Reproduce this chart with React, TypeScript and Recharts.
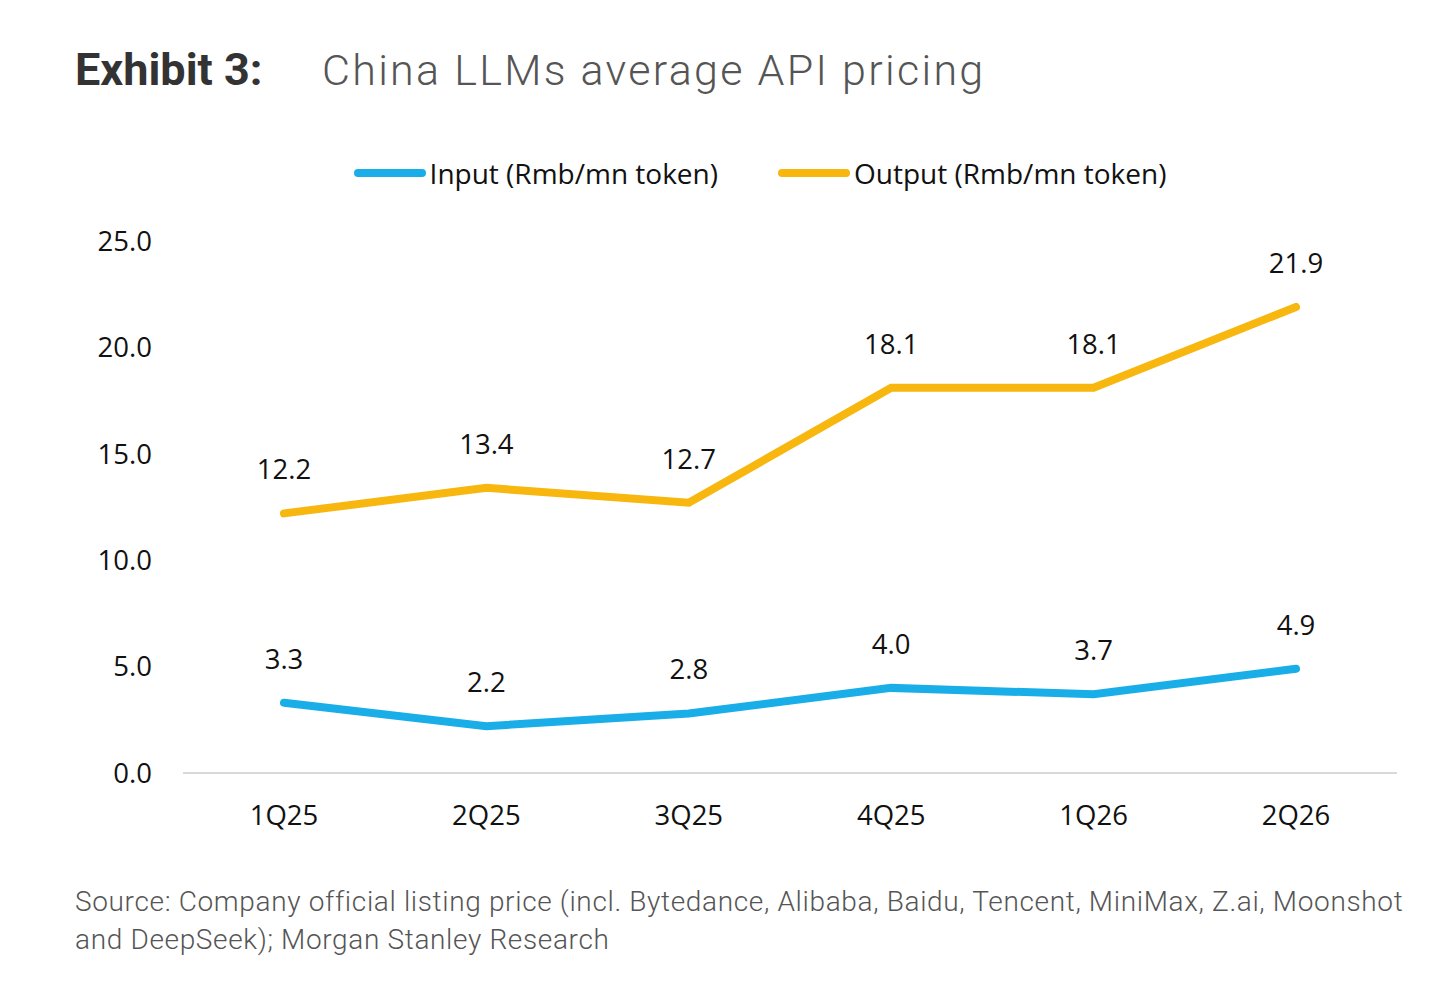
import React from "react";
import { LineChart, Line, XAxis, YAxis, Legend, LabelList } from "recharts";

const quarters = ["1Q25", "2Q25", "3Q25", "4Q25", "1Q26", "2Q26"];
const inputPrice = [3.3, 2.2, 2.8, 4.0, 3.7, 4.9];
const outputPrice = [12.2, 13.4, 12.7, 18.1, 18.1, 21.9];
const yTicks = [0, 5, 10, 15, 20, 25];

const seriesNames = { input: "Input (Rmb/mn token)", output: "Output (Rmb/mn token)" };
const BLUE = "#1AAEE8";
const ORANGE = "#F7B70F";

const data = quarters.map((q, i) => ({ q, input: inputPrice[i], output: outputPrice[i] }));

const chartFont = "'Open Sans', 'Noto Sans', sans-serif";

const LegendContent = (props: any) => {
  const { payload } = props;
  return (
    <div style={{ display: "flex", justifyContent: "center", alignItems: "center", height: 36, fontFamily: chartFont, fontSize: 28, color: "#111" }}>
      {(payload || []).map((p: any, i: number) => (
        <div key={i} style={{ display: "flex", alignItems: "center", marginLeft: i === 0 ? 0 : 60 }}>
          <svg width={76} height={12}>
            <line x1={4} y1={6} x2={68} y2={6} stroke={p.color} strokeWidth={8} strokeLinecap="round" />
          </svg>
          <span>{p.value}</span>
        </div>
      ))}
    </div>
  );
};

export default function App() {
  return (
    <div style={{ position: "absolute", left: 0, top: 0, width: 1439, height: 986, background: "#fff", overflow: "hidden" }}>
      <div style={{ position: "absolute", left: 75, top: 47, fontFamily: "Roboto, sans-serif", fontSize: 45, lineHeight: "45px", fontWeight: 700, color: "#333", whiteSpace: "nowrap" }}>
        Exhibit 3:
      </div>
      <div style={{ position: "absolute", left: 322, top: 49, fontFamily: "Roboto, sans-serif", fontSize: 43, lineHeight: "43px", fontWeight: 300, letterSpacing: 2.3, color: "#555", whiteSpace: "nowrap" }}>
        China LLMs average API pricing
      </div>
      <div style={{ position: "absolute", left: 0, top: 0 }}>
        <LineChart width={1439} height={860} data={data} margin={{ top: 205, right: 42, left: 0, bottom: 0 }}>
          <Legend
            verticalAlign="top"
            content={<LegendContent />}
            wrapperStyle={{ position: "absolute", top: 155, left: 0, width: 1520, height: 36 }}
          />
          <XAxis
            dataKey="q"
            axisLine={{ stroke: "#d9d9d9", strokeWidth: 2 }}
            tickLine={false}
            tickSize={0}
            tickMargin={32}
            padding={{ left: 101, right: 101 }}
            tick={{ fontFamily: chartFont, fontSize: 27.5, fill: "#111" }}
            height={87}
            interval={0}
          />
          <YAxis
            width={183}
            domain={[0, 25]}
            ticks={yTicks}
            axisLine={false}
            tickLine={false}
            tickSize={0}
            tickMargin={31}
            tickFormatter={(v: number) => v.toFixed(1)}
            tick={{ fontFamily: chartFont, fontSize: 27.5, fill: "#111" }}
          />
          <Line
            type="linear"
            dataKey="input"
            name={seriesNames.input}
            stroke={BLUE}
            strokeWidth={8}
            dot={false}
            activeDot={false}
            isAnimationActive={false}
            strokeLinecap="round"
          >
            <LabelList
              dataKey="input"
              position="top"
              offset={34}
              formatter={(v: number) => v.toFixed(1)}
              style={{ fontFamily: chartFont, fontSize: 27.5, fill: "#111" }}
            />
          </Line>
          <Line
            type="linear"
            dataKey="output"
            name={seriesNames.output}
            stroke={ORANGE}
            strokeWidth={8}
            dot={false}
            activeDot={false}
            isAnimationActive={false}
            strokeLinecap="round"
          >
            <LabelList
              dataKey="output"
              position="top"
              offset={34}
              formatter={(v: number) => v.toFixed(1)}
              style={{ fontFamily: chartFont, fontSize: 27.5, fill: "#111" }}
            />
          </Line>
        </LineChart>
      </div>
      <div style={{ position: "absolute", left: 75, top: 883, fontFamily: "Roboto, sans-serif", fontSize: 28, lineHeight: "38px", fontWeight: 300, letterSpacing: 0.65, color: "#555", whiteSpace: "nowrap" }}>
        <div>Source: Company official listing price (incl. Bytedance, Alibaba, Baidu, Tencent, MiniMax, Z.ai, Moonshot</div>
        <div>and DeepSeek); Morgan Stanley Research</div>
      </div>
    </div>
  );
}
